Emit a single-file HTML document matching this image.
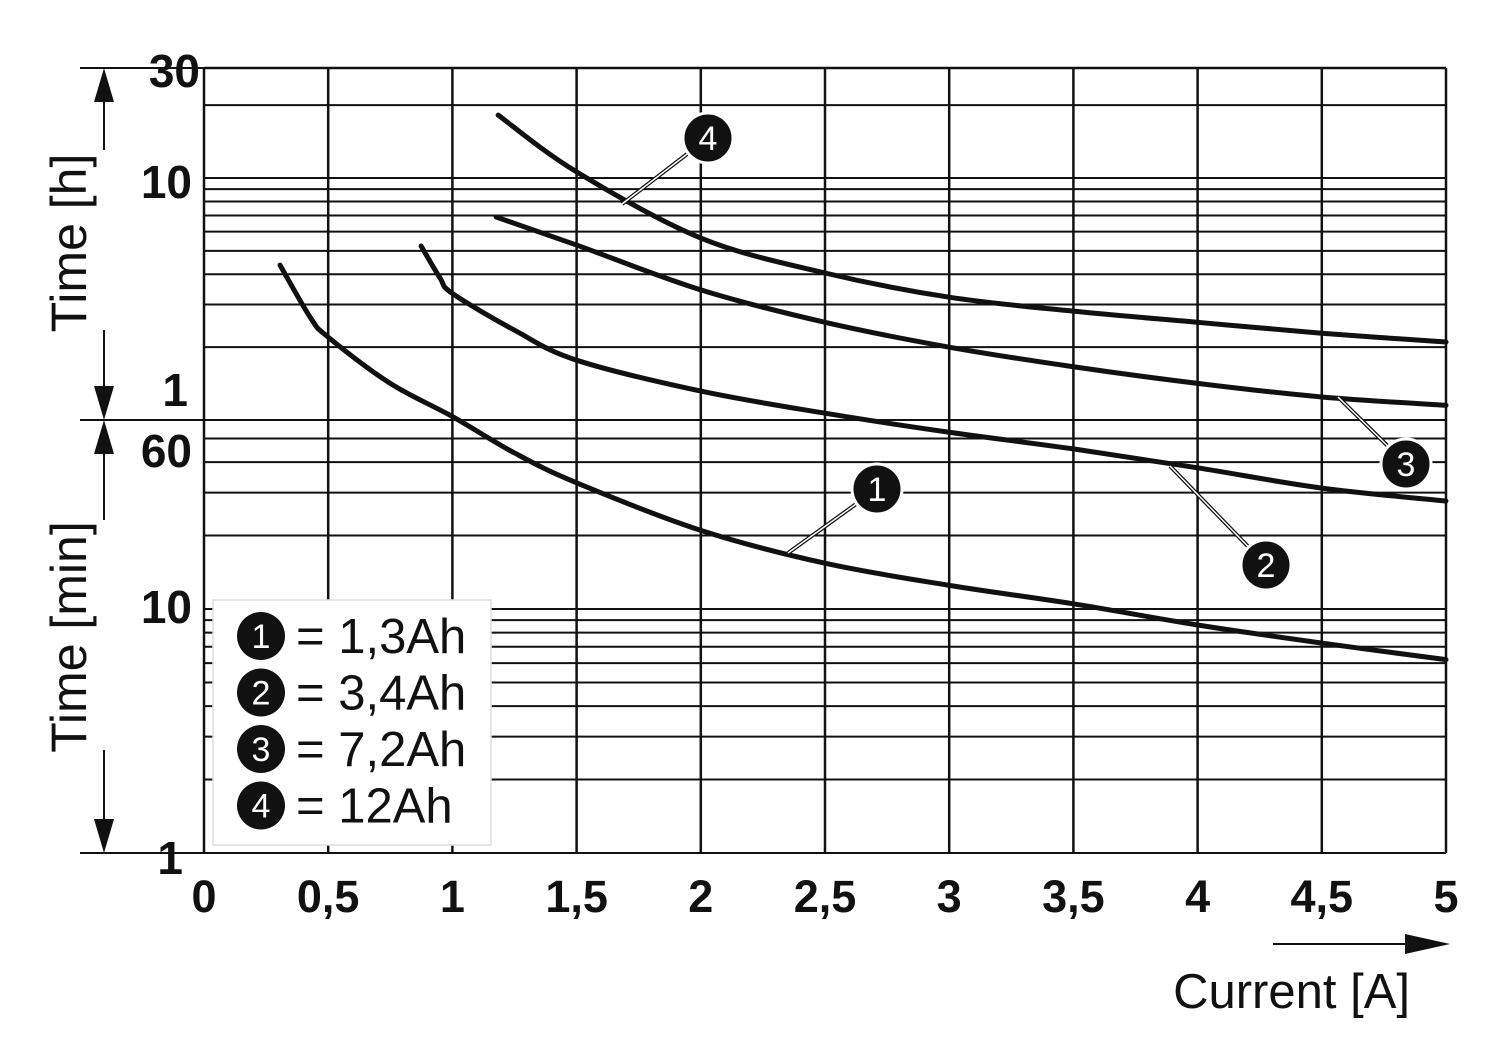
<!DOCTYPE html>
<html><head><meta charset="utf-8"><style>
html,body{margin:0;padding:0;background:#fff;}
svg{display:block;font-family:"Liberation Sans",Arial,sans-serif;}
</style></head><body>
<svg id="chart" width="1500" height="1055" viewBox="0 0 1500 1055" xmlns="http://www.w3.org/2000/svg">
<g id="grid"></g>
<g id="axes"></g>
<g id="curves"></g>
<g id="callouts"></g>
<g id="legend"></g>
</svg>
<script>
const xTicks = [0,0.5,1,1.5,2,2.5,3,3.5,4,4.5,5];
const xTickLabels = ["0","0,5","1","1,5","2","2,5","3","3,5","4","4,5","5"];
const hourGrid = [2,3,4,5,6,7,8,9,10,20,30];
const minGrid = [1,2,3,4,5,6,7,8,9,10,20,30,40,50,60];
const seriesNames = ["1,3Ah","3,4Ah","7,2Ah","12Ah"];
// currents [A] and times [min]
const c1x = [0.306,0.43,0.5,0.75,1.0,1.25,1.5,2.0,2.5,3.0,3.5,4.0,4.5,5.0];
const c1y = [262,158,132,85,62,43.6,32.9,21,15.4,12.5,10.5,8.6,7.25,6.2];
const c2x = [0.874,0.95,1.0,1.25,1.5,2.0,2.5,3.0,3.5,4.0,4.5,5.0];
const c2y = [314,232,200,141,106,79,64,53,45.3,37.9,31.3,27.7];
const c3x = [1.176,1.5,2.0,2.5,3.0,3.5,4.0,4.5,5.0];
const c3y = [414,317,207,152,120,99.6,85,74.7,69];
const c4x = [1.184,1.5,2.0,2.5,3.0,3.5,4.0,4.5,5.0];
const c4y = [1092,636,339,243,193,169,152,137,126];

const NS="http://www.w3.org/2000/svg";
const X0=204,X1=1446,YTOP=68,YH=420,YB=853;
function xs(a){return X0+(X1-X0)*a/5;}
function ysMin(m){
  if(m>=60){return YH-242*Math.log10(m/60);}
  return YB-244*Math.log10(m);
}
function mk(tag,attrs,parent,text){
  const e=document.createElementNS(NS,tag);
  for(const k in attrs)e.setAttribute(k,attrs[k]);
  if(text!==undefined)e.textContent=text;
  parent.appendChild(e);return e;
}
const grid=document.getElementById('grid');
const axes=document.getElementById('axes');
const curves=document.getElementById('curves');
const callouts=document.getElementById('callouts');
const legend=document.getElementById('legend');

hourGrid.forEach(h=>{
  const y=Math.max(YTOP,ysMin(h*60));
  const l=mk('line',{x1:X0,x2:X1,y1:y,y2:y,stroke:'#111','stroke-width':2},grid);
  
  
});
minGrid.forEach(m=>{
  const y=ysMin(m);
  const l=mk('line',{x1:X0,x2:X1,y1:y,y2:y,stroke:'#111','stroke-width':2},grid);
  
  
});
xTicks.forEach((t,i)=>{
  const x=xs(t);
  const l=mk('line',{x1:x,x2:x,y1:YTOP,y2:YB,stroke:'#111','stroke-width':2.5},grid);
  
  
  const tx=mk('text',{x:x,y:912,'text-anchor':'middle','font-size':45,'font-weight':'bold',fill:'#111'},axes,xTickLabels[i]);
  
  
});
mk('line',{x1:X0,x2:X1,y1:YTOP,y2:YTOP,stroke:'#111','stroke-width':2.5},grid);

const yLabels=[["30",200,87],["10",192,198],["1",188,406],["60",192,467],["10",192,623],["1",183,874]];
yLabels.forEach(l=>{
  const t=mk('text',{x:l[1],y:l[2],'text-anchor':'end','font-size':46,'font-weight':'bold',fill:'#111'},axes,l[0]);
  
  
});
[YTOP,YH,YB].forEach(y=>{mk('line',{x1:80,x2:X0,y1:y,y2:y,stroke:'#111','stroke-width':2},axes);});
function vline(y1,y2){mk('line',{x1:104,x2:104,y1:y1,y2:y2,stroke:'#111','stroke-width':2},axes);}
vline(90,150);vline(330,400);vline(440,520);vline(750,830);
function tri(y,dir){
  mk('polygon',{points:`104,${y} 94,${y-dir*34} 114,${y-dir*34}`,fill:'#111'},axes);
}
tri(YTOP,-1);tri(YH,1);tri(YH,-1);tri(YB,1);
const th=mk('text',{x:0,y:0,transform:'translate(86,243) rotate(-90)','text-anchor':'middle','font-size':50,fill:'#111'},axes,'Time [h]');


const tm=mk('text',{x:0,y:0,transform:'translate(86,637) rotate(-90)','text-anchor':'middle','font-size':50,fill:'#111'},axes,'Time [min]');


mk('line',{x1:1273,x2:1415,y1:944,y2:944,stroke:'#111','stroke-width':2},axes);
mk('polygon',{points:'1450,944 1405,934 1405,954',fill:'#111'},axes);
const xt=mk('text',{x:1410,y:1008,'text-anchor':'end','font-size':49,fill:'#111'},axes,'Current [A]');



function smoothPath(px,py){
  const p=px.map((a,i)=>[xs(a),ysMin(py[i])]);
  let d=`M${p[0][0]},${p[0][1]}`;
  for(let i=0;i<p.length-1;i++){
    const p0=p[i-1]||p[i],p1=p[i],p2=p[i+1],p3=p[i+2]||p2;
    const c1=[p1[0]+(p2[0]-p0[0])/6,p1[1]+(p2[1]-p0[1])/6];
    const c2=[p2[0]-(p3[0]-p1[0])/6,p2[1]-(p3[1]-p1[1])/6];
    d+=` C${c1[0]},${c1[1]} ${c2[0]},${c2[1]} ${p2[0]},${p2[1]}`;
  }
  return d;
}
[[c1x,c1y],[c2x,c2y],[c3x,c3y],[c4x,c4y]].forEach((s,i)=>{
  const p=mk('path',{d:smoothPath(s[0],s[1]),fill:'none',stroke:'#111','stroke-width':5,'stroke-linecap':'round'},curves);
  
  
});

const calls=[[1,877,489,788,553],[2,1266,565,1170,466],[3,1406,464,1338,397],[4,708,138,622,204]];
calls.forEach(c=>{
  mk('line',{x1:c[1],y1:c[2],x2:c[3],y2:c[4],stroke:'#111','stroke-width':4},callouts);
  mk('line',{x1:c[1],y1:c[2],x2:c[3],y2:c[4],stroke:'#fff','stroke-width':1.5},callouts);
  const g=mk('g',{},callouts);
  
  
  mk('circle',{cx:c[1],cy:c[2],r:25,fill:'#111',stroke:'#fff','stroke-width':3},g);
  mk('text',{x:c[1],y:c[2]+12,'text-anchor':'middle','font-size':34,fill:'#fff'},g,String(c[0]));
});

const lb=mk('rect',{x:213,y:600,width:278,height:245,fill:'#fff',stroke:'#ddd','stroke-width':1.5},legend);


seriesNames.forEach((n,i)=>{
  const y=636+i*56.5;
  const g=mk('g',{},legend);
  
  
  mk('circle',{cx:261,cy:y,r:24,fill:'#111'},g);
  mk('text',{x:261,y:y+12,'text-anchor':'middle','font-size':34,fill:'#fff'},g,String(i+1));
  mk('text',{x:296,y:y+17,'font-size':49,fill:'#111'},g,'= '+n);
});
</script>
</body></html>
